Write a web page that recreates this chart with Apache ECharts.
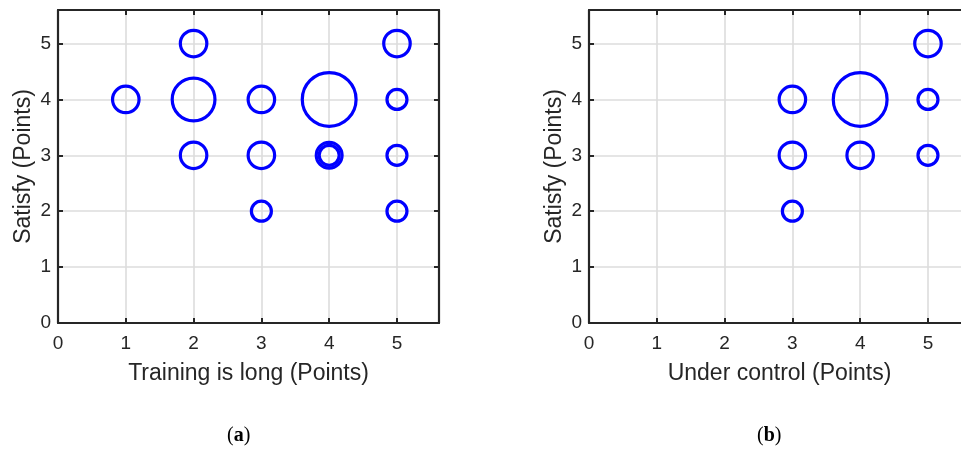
<!DOCTYPE html>
<html>
<head>
<meta charset="utf-8">
<script src="https://cdn.jsdelivr.net/npm/echarts@6/dist/echarts.min.js"></script>
<style>html,body{margin:0;padding:0;background:#fff;}#c{width:961px;height:453px;}</style>
</head>
<body>
<div id="c"></div>
<script>
// Panel (a): Training is long vs Satisfy
const trainingX = [1, 2, 2, 2, 3, 3, 3, 4, 4, 4, 5, 5, 5, 5];
const trainingY = [4, 5, 4, 3, 4, 3, 2, 4, 3, 3, 5, 4, 3, 2];
const trainingN = [2, 2, 4.5, 2, 2, 2, 1, 6.2, 1, 1.9, 2, 1, 1, 1];
// Panel (b): Under control vs Satisfy
const controlX = [3, 3, 3, 4, 4, 5, 5, 5];
const controlY = [4, 3, 2, 4, 3, 5, 4, 3];
const controlN = [2, 2, 1, 6.2, 2, 2, 1, 1];
const tickValues = [0, 1, 2, 3, 4, 5];
const xTitles = ['Training is long (Points)', 'Under control (Points)'];
const yTitle = 'Satisfy (Points)';
const panelLabels = ['a', 'b'];

const AX = '#262626';
const fontSans = 'Liberation Sans, Arial, sans-serif';
const bubbleSize = v => 13.5 + 6.5 * v[2];
const intLabel = v => (tickValues.indexOf(v) >= 0 ? String(v) : '');

function pts(xs, ys, ns) { return xs.map((x, i) => [x, ys[i], ns[i]]); }

const grids = [
  { left: 58, top: 10, width: 381, height: 313, outerBoundsMode: 'none', containLabel: false },
  { left: 589, top: 10, width: 381, height: 313, outerBoundsMode: 'none', containLabel: false }
];

const tick = { show: true, inside: true, length: 5, lineStyle: { color: AX, width: 2 } };
const line = { show: true, onZero: false, lineStyle: { color: AX, width: 2.2 } };
const split = { show: true, lineStyle: { color: '#dcdcdc', width: 1.6 } };

const xAxes = [], yAxes = [], series = [];
grids.forEach((g, gi) => {
  xAxes.push({
    type: 'value', gridIndex: gi, min: 0, max: 5.62, interval: 1, position: 'bottom',
    name: xTitles[gi], nameLocation: 'middle', nameGap: 39,
    nameTextStyle: { fontSize: 23, color: AX, fontFamily: fontSans },
    axisLine: line, axisTick: tick,
    axisLabel: { fontSize: 19, color: AX, fontFamily: fontSans, margin: 11, formatter: intLabel, showMaxLabel: false },
    splitLine: split, z: 3
  });
  xAxes.push({
    type: 'value', gridIndex: gi, min: 0, max: 5.62, interval: 1, position: 'top',
    axisLine: line, axisTick: tick,
    axisLabel: { show: false }, splitLine: { show: false }, z: 3
  });
  yAxes.push({
    type: 'value', gridIndex: gi, min: 0, max: 5.6, interval: 1, position: 'left',
    name: yTitle, nameLocation: 'middle', nameGap: 23,
    nameTextStyle: { fontSize: 23, color: AX, fontFamily: fontSans },
    axisLine: line, axisTick: tick,
    axisLabel: { fontSize: 19, color: AX, fontFamily: fontSans, margin: 7, formatter: intLabel, showMaxLabel: false },
    splitLine: split, z: 3
  });
  yAxes.push({
    type: 'value', gridIndex: gi, min: 0, max: 5.6, interval: 1, position: 'right',
    axisLine: line, axisTick: tick,
    axisLabel: { show: false }, splitLine: { show: false }, z: 3
  });
});

const datasets = [pts(trainingX, trainingY, trainingN), pts(controlX, controlY, controlN)];
datasets.forEach((d, gi) => {
  series.push({
    type: 'scatter', xAxisIndex: gi * 2, yAxisIndex: gi * 2, data: d,
    symbol: 'circle', symbolSize: bubbleSize,
    itemStyle: { color: 'rgba(0,0,0,0)', borderColor: '#0000ff', borderWidth: 3.2, opacity: 1 },
    emphasis: { disabled: true }, silent: true, z: 5
  });
});

const graphics = panelLabels.map((l, i) => ({
  type: 'text', left: i === 0 ? 227 : 757, top: 426,
  style: {
    text: '{p|(}{b|' + l + '}{p|)}',
    rich: {
      p: { fontFamily: 'Liberation Serif, serif', fontSize: 20, fill: '#000' },
      b: { fontFamily: 'Liberation Serif, serif', fontSize: 20, fontWeight: 'bold', fill: '#000' }
    }
  }
}));

const chart = echarts.init(document.getElementById('c'), null, { renderer: 'canvas' });
chart.setOption({
  animation: false,
  backgroundColor: '#fff',
  grid: grids, xAxis: xAxes, yAxis: yAxes, series: series, graphic: graphics
});
</script>
</body>
</html>
